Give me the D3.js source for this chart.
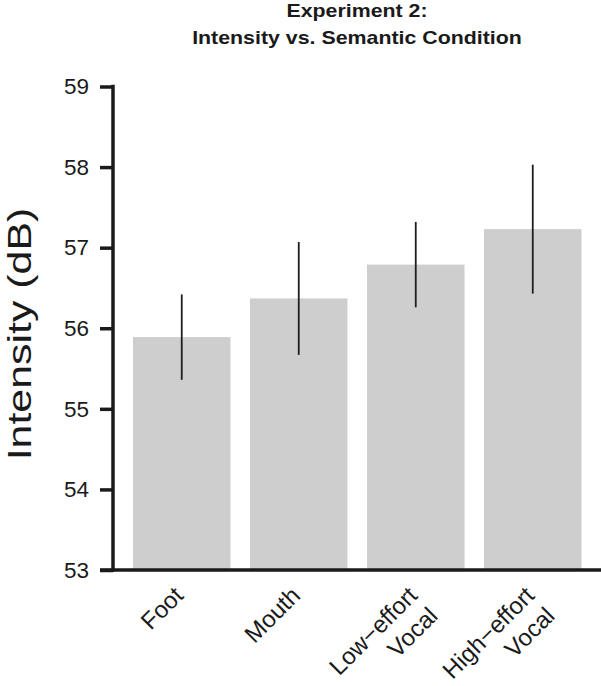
<!DOCTYPE html>
<html>
<head>
<meta charset="utf-8">
<script src="https://cdn.jsdelivr.net/npm/d3@7"></script>
<style>
  html, body { margin: 0; padding: 0; background: #fff; }
  svg { display: block; font-family: "Liberation Sans", Arial, sans-serif; }
</style>
</head>
<body>
<svg id="chart" width="601" height="686"></svg>
<script>
const categories = [["Foot"], ["Mouth"], ["Low\u2212effort", "Vocal"], ["High\u2212effort", "Vocal"]];
const means = [55.89, 56.37, 56.79, 57.23];
const errLower = [55.36, 55.67, 56.26, 56.43];
const errUpper = [56.42, 57.07, 57.32, 58.03];
const yTicks = [53, 54, 55, 56, 57, 58, 59];
const titleLines = ["Experiment 2:", "Intensity vs. Semantic Condition"];
const yLabel = "Intensity (dB)";

const svg = d3.select("#chart");
const ids = categories.map((c, i) => i);

const x = d3.scaleBand().domain(ids).range([123.25, 591.25])
  .paddingInner(0.1667).paddingOuter(0.0833);
const y = d3.scaleLinear().domain([53, 59]).range([570, 86.5]);

// bars
svg.append("g").selectAll("rect").data(ids).join("rect")
  .attr("x", i => x(i))
  .attr("width", x.bandwidth())
  .attr("y", i => y(means[i]))
  .attr("height", i => y(53) - y(means[i]))
  .attr("fill", "#cdcecd");

// error bars
svg.append("g").selectAll("line").data(ids).join("line")
  .attr("x1", i => x(i) + x.bandwidth() / 2)
  .attr("x2", i => x(i) + x.bandwidth() / 2)
  .attr("y1", i => y(errLower[i]))
  .attr("y2", i => y(errUpper[i]))
  .attr("stroke", "#1e1e1e")
  .attr("stroke-width", 1.8);

// y axis
const yAxis = d3.axisLeft(y).tickValues(yTicks).tickFormat(d3.format("d"))
  .tickSizeInner(13).tickSizeOuter(0).tickPadding(11);
const gy = svg.append("g").attr("transform", "translate(113,0)").call(yAxis);
gy.select(".domain").remove();
gy.selectAll(".tick line").attr("stroke", "#1a1a1a").attr("stroke-width", 3.5);
gy.selectAll(".tick text").attr("font-size", 22.5).attr("fill", "#1a1a1a")
  .attr("font-family", "Liberation Sans, Arial, sans-serif");
gy.append("line").attr("x1", 0).attr("x2", 0)
  .attr("y1", y(59) - 1.75).attr("y2", y(53) + 1.75)
  .attr("stroke", "#1a1a1a").attr("stroke-width", 3.5);

// x axis line
svg.append("line").attr("x1", 100).attr("x2", 601)
  .attr("y1", y(53)).attr("y2", y(53))
  .attr("stroke", "#1a1a1a").attr("stroke-width", 3.5);

// x labels
const xl = svg.append("g").selectAll("text").data(ids).join("text")
  .attr("transform", i => `translate(${x(i) + x.bandwidth() / 2 + 3},597) rotate(-45)`)
  .attr("text-anchor", "end")
  .attr("font-size", 24)
  .attr("fill", "#1a1a1a");
xl.each(function(i) {
  const t = d3.select(this);
  categories[i].forEach((line, k) => {
    t.append("tspan").attr("x", 0).attr("dy", k === 0 ? 0 : "1.2em").text(line);
  });
});

// title
titleLines.forEach((line, k) => {
  svg.append("text")
    .attr("transform", `translate(357,${16.5 + k * 27}) scale(1.22,1)`)
    .attr("text-anchor", "middle")
    .attr("font-size", 17.5)
    .attr("font-weight", "bold")
    .attr("fill", "#1a1a1a")
    .text(line);
});

// y label
svg.append("text")
  .attr("transform", "translate(31,334) rotate(-90) scale(1.32,1)")
  .attr("text-anchor", "middle")
  .attr("font-size", 32.5)
  .attr("fill", "#1a1a1a")
  .text(yLabel);
</script>
</body>
</html>
